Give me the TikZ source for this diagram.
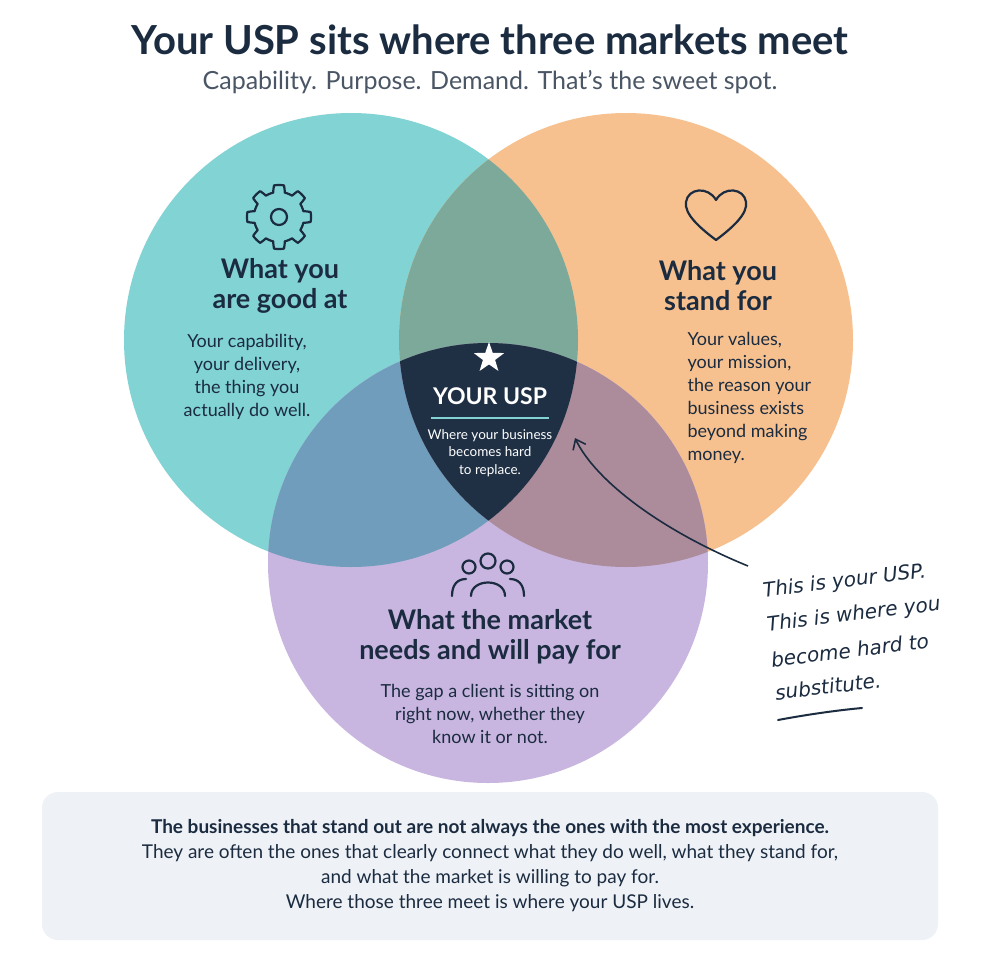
\documentclass[tikz,border=0pt]{standalone}
\usepackage{fontspec}
\setmainfont{Lato}
\newfontfamily\handfont{DejaVu Sans}
\usetikzlibrary{positioning,shapes.geometric,arrows.meta}
\definecolor{navy}{HTML}{1B2B40}
\definecolor{tealc}{HTML}{82D3D3}
\definecolor{orangec}{HTML}{F6C18F}
\definecolor{purplec}{HTML}{C8B6E0}
\definecolor{tealorange}{HTML}{7DA99A}
\definecolor{tealpurple}{HTML}{6F9DBB}
\definecolor{orangepurple}{HTML}{AC8B9B}
\definecolor{usp}{HTML}{1F3045}
\definecolor{boxc}{HTML}{EEF2F6}
\definecolor{subgray}{HTML}{4A5665}
\tikzset{
  head/.style={font=\fontsize{27}{30}\selectfont\bfseries, text=navy, align=center},
  body/.style={font=\fontsize{18}{23}\selectfont, text=navy},
  icon/.style={draw=navy, line width=2.2pt, line join=round, line cap=round},
  hand/.style={font=\handfont\itshape\fontsize{20}{22}\selectfont, text=navy, rotate=7, anchor=west, inner sep=1pt},
}
\begin{document}
\begin{tikzpicture}[x=1pt,y=-1pt]
  \useasboundingbox (0,0) rectangle (980,980);
  \fill[white] (0,0) rectangle (980,980);
  % circles
  \def\circA{(351,340) circle (227)}
  \def\circB{(626,340) circle (227)}
  \def\circC{(488,563) circle (220)}
  \fill[tealc] \circA;
  \fill[orangec] \circB;
  \fill[purplec] \circC;
  \begin{scope} \clip \circA; \fill[tealorange] \circB; \fill[tealpurple] \circC; \end{scope}
  \begin{scope} \clip \circB; \fill[orangepurple] \circC; \end{scope}
  \begin{scope} \clip \circA; \clip \circB; \fill[usp] \circC; \end{scope}
  % title
  \node[font=\fontsize{40}{42}\selectfont\bfseries, text=navy] (title) at (490,40) {Your USP sits where three markets meet};
  \node[font=\fontsize{25}{27}\selectfont, text=subgray] (subtitle) at (490,82) {Capability. Purpose. Demand. That’s the sweet spot.};
  % gear
  \draw[icon] (279,217) circle (8);
  \draw[icon, shift={(279,217)}] plot[domain=0:360, samples=161]
    (\x:{25+7*min(1,max(0,0.5+1.6*cos(8*\x)))}) -- cycle;
  % heart
  \draw[icon] (716,240) .. controls (700,228) and (684,214) .. (686,202)
    .. controls (688,188) and (708,186) .. (716,200)
    .. controls (724,186) and (744,188) .. (746,202)
    .. controls (748,214) and (732,228) .. (716,240) -- cycle;
  % people
  \draw[icon] (488,561) circle (7.5) (469,567) circle (6.5) (507,567) circle (6.5);
  \draw[icon] (471,596) .. controls (471,578) and (505,578) .. (505,596);
  \draw[icon] (452,596) .. controls (452,584) and (458,579) .. (466,579);
  \draw[icon] (524,596) .. controls (524,584) and (518,579) .. (510,579);
  % circle texts
  \node[head] (goodhead) at (280,286) {What you\\are good at};
  \node[body, align=center] (goodbody) at (247,377) {Your capability,\\your delivery,\\the thing you\\actually do well.};
  \node[head] (standhead) at (718,286) {What you\\stand for};
  \node[body, align=left, anchor=north west] (standbody) at (684,329) {Your values,\\your mission,\\the reason your\\business exists\\beyond making\\money.};
  \node[head] (markethead) at (490,637) {What the market\\needs and will pay for};
  \node[body, align=center] (marketbody) at (490,714) {The gap a client is sitting on\\right now, whether they\\know it or not.};
  % usp
  \node[star, star points=5, star point ratio=2.5, fill=white, minimum size=32pt, inner sep=0pt] (star) at (489,358) {};
  \node[font=\fontsize{23}{25}\selectfont\bfseries, text=white] (usptext) at (490,396) {YOUR USP};
  \draw[tealc, line width=1.5pt] (431,418) -- (549,418);
  \node[font=\fontsize{13.5}{17.5}\selectfont, text=white, align=center] (uspbody) at (490,453) {Where your business\\becomes hard\\to replace.};
  % annotation
  \node[hand] (note1) at (762,592) {This is your USP.};
  \node[hand] (note2) at (766,626) {This is where you};
  \node[hand] (note3) at (770,660) {become hard to};
  \node[hand] (note4) at (774,693) {substitute.};
  \coordinate (tail) at (748,566);
  \coordinate (tip) at (575,438);
  \draw[navy, line width=1.6pt, -{Straight Barb[length=9pt,width=14pt]}] (tail) .. controls (660,530) and (595,480) .. (tip);
  \draw[navy, line width=2pt, line cap=round] (778,720) .. controls (810,714) and (840,710) .. (862,708);
  % bottom box
  \fill[boxc, rounded corners=16pt] (42,792) rectangle (938,940);
  \node[font=\fontsize{19}{21}\selectfont\bfseries, text=navy] (boxhead) at (490,828) {The businesses that stand out are not always the ones with the most experience.};
  \node[font=\fontsize{19}{25}\selectfont, text=navy, align=center, below=1pt of boxhead] (boxbody) {They are often the ones that clearly connect what they do well, what they stand for,\\and what the market is willing to pay for.\\Where those three meet is where your USP lives.};
\end{tikzpicture}
\end{document}
